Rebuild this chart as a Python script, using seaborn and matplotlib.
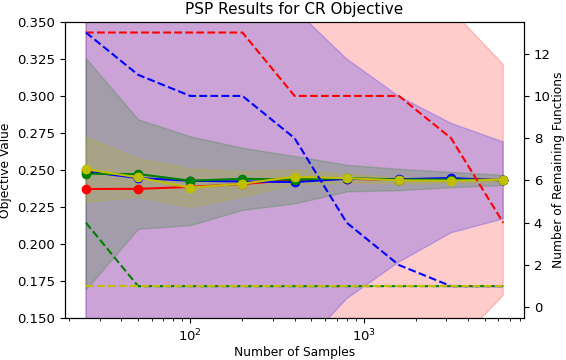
import numpy as np
import pandas as pd
import matplotlib
matplotlib.use("Agg")
import matplotlib.pyplot as plt
import seaborn as sns

# sample counts (log x axis)
samples = [25, 50, 100, 200, 400, 800, 1600, 3200, 6400]

# mean objective value per method
red_mean = [0.2371, 0.2372, 0.2385, 0.2405, 0.2432, 0.2440, 0.2432, 0.2435, 0.2432]
blue_mean = [0.2490, 0.2445, 0.2427, 0.2422, 0.2418, 0.2440, 0.2437, 0.2445, 0.2429]
green_mean = [0.2474, 0.2472, 0.2427, 0.2440, 0.2434, 0.2445, 0.2435, 0.2435, 0.2432]
yellow_mean = [0.2505, 0.2449, 0.2380, 0.2407, 0.2454, 0.2444, 0.2429, 0.2427, 0.2434]

# half widths of the shaded bands
red_err = [0.50, 0.45, 0.40, 0.35, 0.30, 0.22, 0.16, 0.115, 0.078]
blue_err = [0.30, 0.25, 0.20, 0.16, 0.117, 0.081, 0.056, 0.037, 0.026]
green_err = [0.078, 0.037, 0.030, 0.021, 0.016, 0.009, 0.0072, 0.0052, 0.0034]
yellow_err = [0.022, 0.013, 0.013, 0.0085, 0.005, 0.003, 0.002, 0.0015, 0.001]

# number of remaining functions (right axis)
red_left = [13, 13, 13, 13, 10, 10, 10, 8, 4]
blue_left = [13, 11, 10, 10, 8, 4, 2, 1, 1]
green_left = [4, 1, 1, 1, 1, 1, 1, 1, 1]
yellow_left = [1, 1, 1, 1, 1, 1, 1, 1, 1]

colors = ["r", "b", "g", "y"]
means = [red_mean, blue_mean, green_mean, yellow_mean]
errs = [red_err, blue_err, green_err, yellow_err]
remaining = [red_left, blue_left, green_left, yellow_left]

plt.rcParams["xtick.labelsize"] = 9.5
plt.rcParams["ytick.labelsize"] = 9.5
plt.rcParams["axes.labelsize"] = 8.8

fig = plt.figure(figsize=(5.66, 3.6), dpi=100)
ax = fig.add_axes([0.115, 0.117, 0.811, 0.822])
ax.set_xscale("log")

x = np.array(samples)
for c, m, e in zip(colors, means, errs):
    m = np.array(m)
    e = np.array(e)
    ax.fill_between(x, m - e, m + e, color=c, alpha=0.2)

for c, m in zip(colors, means):
    df = pd.DataFrame({"n": samples, "val": m})
    sns.lineplot(data=df, x="n", y="val", ax=ax, color=c, marker="o",
                 markersize=6, markeredgecolor=c, markeredgewidth=1,
                 linewidth=1.5)

ax.set_ylim(0.15, 0.35)
ax.set_xlabel("Number of Samples", labelpad=1)
ax.set_ylabel("Objective Value")
ax.set_title("PSP Results for CR Objective", fontsize=11)

ax2 = ax.twinx()
for c, r in zip(colors, remaining):
    df = pd.DataFrame({"n": samples, "k": r})
    sns.lineplot(data=df, x="n", y="k", ax=ax2, color=c, linestyle="--",
                 linewidth=1.5)
ax2.set_ylim(-0.5, 13.5)
ax2.set_yticks(range(0, 13, 2))
ax2.set_ylabel("Number of Remaining Functions", labelpad=1)
ax2.set_xscale("log")

fig.savefig("out.png", dpi=100)
